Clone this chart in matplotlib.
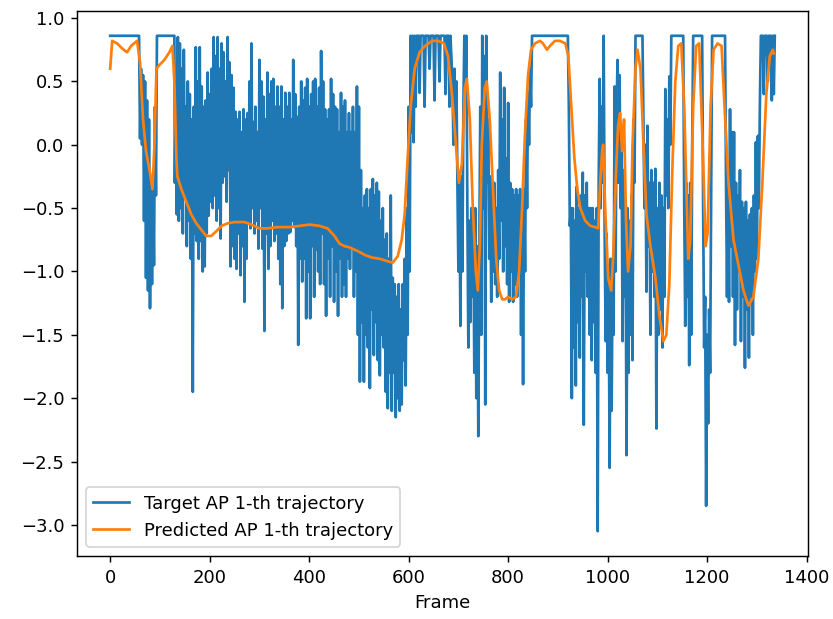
import numpy as np
from matplotlib import pyplot as plt

# target AP trajectory, (frame, value)
target_pts = [
    (0, 0.86), (58, 0.86),
    (60, 0.05), (62, 0.6), (64, 0.0), (66, 0.55), (68, -0.6), (70, 0.5), (72, -1.05), (74, 0.35),
    (76, -1.15), (78, 0.2), (80, -1.29), (82, -0.3), (84, -1.1), (86, -0.25), (88, -0.95), (90, 0.3),
    (92, -0.4), (94, 0.86), (129, 0.86),
    (130, -0.3), (132, 0.5), (134, -0.55), (136, 0.85), (138, -0.6), (140, 0.8), (142, -0.5), (144, 0.6),
    (146, -0.7), (148, 0.75), (150, -0.4), (152, 0.3), (154, -0.8), (156, 0.5), (158, -0.6), (160, 0.4),
    (162, -0.9), (164, 0.2), (166, -1.95), (168, 0.3), (170, -0.7), (172, 0.77), (174, -0.76), (176, 0.5),
    (178, -0.9),
    (180, 0.77), (182, -0.76), (184, 0.46), (186, -1.0), (188, 0.3), (190, -0.96), (192, 0.35), (194, -0.7),
    (196, 0.57), (198, -0.56), (200, 0.4), (202, -0.45), (204, 0.6), (206, -0.5), (208, 0.85), (210, -0.4),
    (212, 0.7), (214, -0.6), (216, 0.85), (218, -0.5), (220, 0.6), (222, -0.74), (224, 0.8), (226, -0.3),
    (228, 0.73), (230, -0.25), (232, 0.5), (234, -0.45), (236, 0.85), (238, -0.2), (240, 0.65), (242, -0.96),
    (244, 0.55), (246, -0.8), (248, 0.45), (250, -0.9), (252, 0.26), (254, -0.98), (256, 0.2), (258, -0.7),
    (260, 0.26), (262, -1.03), (264, 0.1), (266, -0.8), (268, 0.28), (270, -1.24), (272, 0.2), (274, -0.9),
    (276, 0.25), (278, -0.6), (280, 0.5), (282, -0.66), (284, 0.8), (286, -0.5), (288, 0.18), (290, -0.7),
    (292, 0.3), (294, -0.6), (296, 0.1), (298, -0.82), (300, 0.67), (302, -0.5), (304, 0.5), (306, -0.82),
    (308, 0.38), (310, -1.47), (312, 0.2), (314, -0.7), (316, 0.57), (318, -0.98), (320, 0.4), (322, -0.8),
    (324, 0.5), (326, -0.6), (328, 0.52), (330, -0.76), (332, 0.3), (334, -0.7), (336, 0.46), (338, -0.9),
    (340, 0.3), (342, -1.1), (344, 0.46), (346, -1.29), (348, 0.2), (350, -0.8), (352, 0.41), (354, -0.76),
    (356, 0.3), (358, -0.7), (360, 0.41), (362, -0.69), (364, 0.2), (366, -0.6), (368, 0.67), (370, -0.65),
    (372, 0.4), (374, -0.8), (376, 0.22), (378, -1.58), (380, 0.3), (382, -0.9), (384, 0.5), (386, -1.08),
    (388, 0.35), (390, -0.9), (392, 0.45), (394, -1.37), (396, 0.52), (398, -1.0), (400, 0.3), (402, -1.37),
    (404, 0.4), (406, -0.8), (408, 0.5), (410, -1.2),
    (412, 0.52), (414, -0.83), (416, 0.3), (418, -1.0), (420, 0.45), (422, -1.1), (424, 0.74), (426, -0.7),
    (428, 0.5), (430, -1.1), (432, 0.28), (434, -1.35), (436, 0.2), (438, -0.9), (440, 0.28), (442, -1.2),
    (444, 0.52), (446, -0.8), (448, 0.4), (450, -1.24), (452, 0.3), (454, -1.0), (456, 0.28), (458, -1.35),
    (460, 0.1), (462, -0.9), (464, 0.41), (466, -1.2), (468, 0.3), (470, -1.1), (472, 0.35), (474, -1.2),
    (476, 0.1), (478, -0.9), (480, 0.25), (482, -0.98), (484, 0.1), (486, -0.8), (488, 0.3), (490, -1.2),
    (492, 0.1), (494, -1.0), (496, 0.46), (498, -1.5), (500, 0.3), (502, -1.87), (504, -0.2), (506, -1.4),
    (508, -0.5), (510, -1.87), (512, -0.4), (514, -1.5), (516, -0.35), (518, -1.6), (520, -0.5), (522, -1.92),
    (524, -0.35), (526, -1.3), (528, -0.27), (530, -1.66), (532, -0.4), (534, -1.4), (536, -0.3), (538, -1.7),
    (540, -0.37), (542, -1.82), (544, -0.6), (546, -1.5), (548, -0.5), (550, -1.6), (552, -0.75), (554, -1.95),
    (556, -0.7), (558, -2.08), (560, -0.9), (562, -1.8), (564, -0.4), (566, -2.1), (568, -1.05), (570, -1.8),
    (572, -1.1), (574, -2.15), (576, -1.2), (578, -2.0), (580, -1.1), (582, -2.1), (584, -1.3), (586, -2.05),
    (588, -1.1), (590, -1.7), (592, -0.9), (594, -1.9), (596, -0.5), (598, -1.5), (600, 0.3), (602, -1.0),
    (604, 0.86), (606, 0.1), (608, 0.86), (610, 0.02), (612, 0.86), (614, 0.3), (616, 0.86), (620, 0.86),
    (622, 0.41), (624, 0.86), (630, 0.86), (632, 0.3), (634, 0.86), (640, 0.86), (642, 0.6), (644, 0.86),
    (650, 0.86), (652, 0.35), (654, 0.86), (660, 0.86), (662, 0.5), (664, 0.86), (672, 0.86), (674, 0.4),
    (676, 0.86), (680, 0.86), (682, 0.3), (684, 0.86), (688, 0.5), (690, 0.0), (692, 0.6), (694, 0.02),
    (696, 0.5), (698, -0.3), (700, -1.0), (702, -0.3), (704, -1.43), (706, -0.25), (708, -1.0), (710, 0.3),
    (712, 0.86), (714, 0.5), (716, 0.86), (718, -0.5), (720, -1.6), (722, -0.6), (724, -1.4), (726, -0.5),
    (728, -1.2), (730, -0.6), (732, -1.8), (734, -0.5), (736, -2.0), (738, -0.8), (740, -2.3), (742, -0.8),
    (744, 0.3), (746, -1.5), (748, 0.86), (750, -0.5), (752, 0.7), (754, -2.05), (756, 0.86), (758, -0.3),
    (760, 0.2), (762, -0.9), (764, -0.25), (766, -1.24), (768, -0.4), (770, -1.0), (772, -0.3), (774, -1.1),
    (776, -0.5), (778, -1.2), (780, -0.2), (782, -0.9), (784, 0.57), (786, -0.6), (788, 0.2), (790, -1.0),
    (792, 0.45), (794, -0.8), (796, -0.11), (798, -1.1), (800, 0.33), (802, -1.24), (804, -0.3), (806, -1.0),
    (808, -0.35), (810, -1.24), (812, -0.4), (814, -1.1), (816, -0.35), (818, -1.2), (820, -0.4), (822, -0.9),
    (824, -0.35), (826, -1.5), (828, -0.4), (830, -1.89), (832, -0.35), (834, -1.0), (836, 0.2), (838, -0.5),
    (840, 0.41), (842, 0.0), (844, 0.6), (846, 0.3), (848, 0.86), (920, 0.86),
    (922, 0.3), (924, -0.64), (926, -0.5), (928, -2.0), (930, -0.5), (932, -1.6), (934, -0.6), (936, -1.9),
    (938, -0.33), (940, -1.4), (942, -0.5), (944, -1.68), (946, -0.4), (948, -1.2), (950, -0.22), (952, -2.21),
    (954, -0.4), (956, -1.0), (958, -0.3), (960, -1.2), (962, -0.5), (964, -1.5), (966, -0.5), (968, -1.7),
    (970, -0.5), (972, -1.4), (974, -0.6), (976, -1.8), (978, -0.5), (980, -3.05), (982, -0.3), (984, 0.52),
    (986, -0.5), (988, 0.3), (990, -0.3), (992, 0.86), (994, -0.7), (996, -1.55), (998, -0.7), (1000, -1.8),
    (1002, -1.0), (1004, -2.55), (1006, -0.9), (1008, -2.1), (1010, -1.0), (1012, -1.5), (1014, 0.46),
    (1016, -1.0), (1018, 0.3), (1020, 0.67), (1022, -0.3), (1024, 0.55), (1026, -0.5), (1028, 0.1),
    (1030, -1.55), (1032, -0.2), (1034, -1.2), (1036, -0.6), (1038, -2.45), (1040, -0.5), (1042, -1.8),
    (1044, -0.6), (1046, -1.5), (1048, -0.4), (1050, -1.7), (1052, 0.2), (1054, -0.3), (1056, 0.86),
    (1070, 0.86),
    (1072, 0.2), (1074, -0.5), (1076, 0.0), (1078, -1.16), (1080, 0.15), (1082, -0.8), (1084, -0.3),
    (1086, -1.5), (1088, -0.2), (1090, -1.0), (1092, -0.3), (1094, -1.2), (1096, -0.19), (1098, -2.24),
    (1100, -0.5), (1102, -1.5), (1104, -0.3), (1106, -1.3), (1108, -0.4), (1110, -1.6), (1112, -0.5),
    (1114, -1.2), (1116, 0.44), (1118, -0.4), (1120, 0.2), (1122, -0.5), (1124, 0.54), (1126, 0.0),
    (1128, 0.86), (1152, 0.86),
    (1154, -0.5), (1156, -1.43), (1158, -0.3), (1160, -1.2), (1162, -0.4), (1164, -1.74), (1166, -0.3),
    (1168, -1.5), (1170, 0.0), (1172, 0.86), (1190, 0.86),
    (1192, -0.5), (1194, -1.6), (1196, -1.2), (1198, -2.85), (1200, -1.5), (1202, -2.2), (1204, -1.3),
    (1206, -1.8), (1208, -0.5), (1210, 0.86), (1236, 0.86),
    (1238, -0.3), (1240, -1.2), (1242, -0.25), (1244, -1.24), (1246, 0.28), (1248, -0.8), (1250, 0.1),
    (1252, -1.2), (1254, 0.1), (1256, -1.58), (1258, -0.3), (1260, -1.3), (1262, -0.4), (1264, -1.0),
    (1266, -0.2), (1268, -1.55), (1270, -0.45), (1272, -1.2), (1274, -0.5), (1276, -1.76), (1278, -0.45),
    (1280, -1.3), (1282, -0.6), (1284, -1.68), (1286, -0.55), (1288, -1.2), (1290, -0.5), (1292, -1.5),
    (1294, -0.4), (1296, -1.0), (1298, 0.02), (1300, -0.9), (1302, 0.07), (1304, -0.5), (1306, 0.3),
    (1308, 0.86), (1312, 0.86), (1314, 0.4), (1316, 0.86), (1320, 0.86), (1322, 0.5), (1324, 0.86),
    (1328, 0.86), (1330, 0.35), (1332, 0.86), (1334, 0.4), (1336, 0.86),
]

# predicted AP trajectory (smooth), (frame, value)
pred_pts = [
    (0, 0.6), (4, 0.82), (14, 0.8), (24, 0.76), (34, 0.73), (42, 0.78), (48, 0.8), (54, 0.82),
    (60, 0.65), (66, 0.2), (72, -0.05), (79, -0.2), (85, -0.35), (89, 0.0), (93, 0.6), (99, 0.63),
    (109, 0.67), (119, 0.73), (125, 0.78), (129, 0.5), (133, -0.1), (135, -0.25), (143, -0.35),
    (153, -0.45), (163, -0.55), (173, -0.62), (183, -0.67), (193, -0.72), (203, -0.72), (214, -0.68),
    (224, -0.64), (236, -0.62), (250, -0.61), (270, -0.61), (284, -0.63), (300, -0.66), (316, -0.66),
    (336, -0.65), (361, -0.65), (381, -0.64), (401, -0.63), (421, -0.64), (437, -0.66), (451, -0.72),
    (461, -0.78), (471, -0.8), (481, -0.81), (498, -0.84), (512, -0.87), (526, -0.89), (542, -0.9),
    (558, -0.92), (568, -0.93), (578, -0.88), (586, -0.75), (592, -0.55), (598, -0.1), (604, 0.3),
    (612, 0.6), (622, 0.73), (633, 0.78), (647, 0.82), (659, 0.82), (671, 0.8), (679, 0.7), (687, 0.4),
    (695, 0.0), (701, -0.3), (707, -0.15), (713, 0.45), (717, 0.52), (723, 0.2), (729, -0.5),
    (735, -1.0), (739, -1.15), (743, -0.8), (747, 0.0), (753, 0.45), (757, 0.5), (763, 0.2),
    (770, -0.4), (776, -0.9), (782, -1.15), (788, -1.22), (794, -1.22), (800, -1.2), (808, -1.22),
    (816, -1.2), (822, -1.0), (828, -0.5), (834, 0.1), (840, 0.55), (846, 0.75), (854, 0.8), (864, 0.82),
    (870, 0.8), (878, 0.75), (884, 0.78), (894, 0.82), (904, 0.82), (915, 0.8), (921, 0.7), (927, 0.3),
    (933, -0.1), (939, -0.35), (945, -0.5), (955, -0.6), (965, -0.64), (975, -0.65), (981, -0.66),
    (985, -0.3), (989, -0.05), (991, 0.0), (995, -0.5), (1001, -1.05), (1007, -1.15), (1011, -0.9),
    (1017, -0.2), (1021, 0.15), (1025, 0.25), (1029, -0.05), (1033, 0.2), (1037, -0.6), (1041, -1.0),
    (1046, -0.8), (1050, 0.0), (1056, 0.6), (1060, 0.75), (1066, 0.6), (1072, 0.0), (1078, -0.55),
    (1086, -0.8), (1096, -1.05), (1104, -1.35), (1112, -1.55), (1118, -1.5), (1124, -1.1), (1130, -0.2),
    (1136, 0.5), (1142, 0.78), (1148, 0.8), (1154, 0.3), (1162, -0.9), (1166, -0.75), (1172, 0.3),
    (1178, 0.78), (1184, 0.8), (1191, 0.0), (1197, -0.8), (1201, -0.7), (1207, 0.3), (1213, 0.75),
    (1221, 0.8), (1229, 0.78), (1235, 0.3), (1243, -0.3), (1253, -0.75), (1263, -0.95), (1273, -1.15),
    (1283, -1.27), (1293, -1.2), (1303, -0.9), (1311, -0.3), (1319, 0.4), (1326, 0.7), (1332, 0.75),
    (1334, 0.72),
]

target_frame = [p[0] for p in target_pts]
target_value = [p[1] for p in target_pts]
pred_frame = [p[0] for p in pred_pts]
pred_value = [p[1] for p in pred_pts]

fig = plt.figure(figsize=(833 / 130, 619 / 130), dpi=130)
ax = fig.add_axes([0.0924, 0.1018, 0.8776, 0.8804])

ax.plot(target_frame, target_value, color='tab:blue', label='Target AP 1-th trajectory')
ax.plot(pred_frame, pred_value, color='tab:orange', label='Predicted AP 1-th trajectory')

ax.set_xlabel('Frame')
ax.set_xticks(np.arange(0, 1401, 200))
ax.set_yticks(np.arange(-3.0, 1.01, 0.5))
ax.legend(loc='lower left')

fig.savefig('out.png', dpi=130)
